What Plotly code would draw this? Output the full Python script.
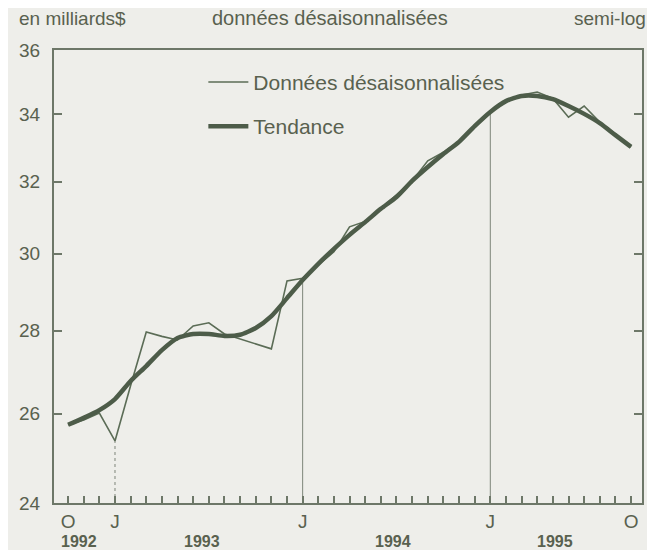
import math
import plotly.graph_objects as go

# Monthly observations, Oct 1992 .. Oct 1995 (month index 0..36)
month_index = list(range(37))
raw_values = [25.74, 25.85, 26.01, 25.37, 26.66, 27.97, 27.86, 27.77, 28.12, 28.20,
              27.92, 27.79, 27.67, 27.55, 29.28, 29.35, 29.70, 30.05, 30.73, 30.88,
              31.23, 31.62, 32.02, 32.60, 32.85, 33.18, 33.60, 34.03, 34.41, 34.58,
              34.67, 34.47, 33.90, 34.24, 33.75, 33.40, 33.00]
trend_values = [25.74, 25.90, 26.08, 26.34, 26.77, 27.13, 27.52, 27.82, 27.92, 27.92,
                27.87, 27.90, 28.07, 28.37, 28.83, 29.30, 29.73, 30.13, 30.51, 30.86,
                31.23, 31.56, 32.02, 32.42, 32.80, 33.16, 33.63, 34.06, 34.39, 34.55,
                34.55, 34.45, 34.24, 34.00, 33.72, 33.36, 33.01]

month_tick_labels = {0: "O", 3: "J", 15: "J", 27: "J", 36: "O"}
january_index = [3, 15, 27]
year_labels = ["1992", "1993", "1994", "1995"]
year_label_pos = [0.73, 8.55, 20.77, 31.13]
y_ticks = [24, 26, 28, 30, 32, 34, 36]

TXT = "#59614f"
AX = "#6d7768"
BG = "#eeeeea"
FONT = "Liberation Sans, Arial, sans-serif"

fig = go.Figure()

# drop lines from January data points to the axis
for k, j in enumerate(january_index):
    fig.add_trace(go.Scatter(
        x=[month_index[j], month_index[j]], y=[y_ticks[0], raw_values[j]],
        mode="lines", line=dict(color="#7d857a", width=1, dash="dot" if k == 0 else "solid"),
        showlegend=False, hoverinfo="skip"))

fig.add_trace(go.Scatter(
    x=month_index, y=raw_values, mode="lines", name="Données désaisonnalisées",
    line=dict(color="#5b6c56", width=1.6), legendgroup="a"))
fig.add_trace(go.Scatter(
    x=month_index, y=trend_values, mode="lines", name="Tendance",
    line=dict(color="#4d5c49", width=4.5, shape="spline", smoothing=0.6), legendgroup="b"))

# page body has an 8px default margin: figure is sized so the plot area lands
# where the reference has it
fig.update_layout(
    width=647, height=542,
    margin=dict(l=37, r=11, t=42, b=47),
    paper_bgcolor=BG, plot_bgcolor=BG,
    font=dict(family=FONT, size=19, color=TXT),
    showlegend=True,
    legend=dict(x=0.254, y=0.974, xanchor="left", yanchor="top",
                bgcolor="rgba(0,0,0,0)", font=dict(size=21, color=TXT),
                tracegroupgap=14, itemwidth=40),
)

fig.update_xaxes(
    range=[-0.9, 36.7], showgrid=False, zeroline=False,
    showline=True, linecolor=AX, linewidth=2, mirror=True,
    ticks="inside", ticklen=7, tickwidth=1.5, tickcolor=AX,
    tickvals=month_index,
    ticktext=[month_tick_labels.get(i, "") for i in month_index],
    tickfont=dict(size=19, color=TXT),
)
fig.update_yaxes(
    type="log", range=[math.log10(24), math.log10(36)],
    showgrid=False, zeroline=False,
    showline=True, linecolor=AX, linewidth=2, mirror="ticks",
    ticks="inside", ticklen=8, tickwidth=1.5, tickcolor=AX,
    tickvals=y_ticks, ticktext=[str(v) for v in y_ticks],
    tickfont=dict(size=19, color=TXT), ticklabelstandoff=8,
)

for lab, pos in zip(year_labels, year_label_pos):
    fig.add_annotation(x=pos, y=0, xref="x", yref="paper", text=f"<b>{lab}</b>",
                       showarrow=False, yanchor="middle", yshift=-38,
                       font=dict(size=16, color=TXT))

fig.add_annotation(x=0.0, y=1, xref="paper", yref="paper", text="en milliards$",
                   showarrow=False, xanchor="left", yanchor="middle", yshift=32, xshift=-37)
fig.add_annotation(x=0.47, y=1, xref="paper", yref="paper", text="données désaisonnalisées",
                   showarrow=False, xanchor="center", yanchor="middle", yshift=32,
                   font=dict(size=20))
fig.add_annotation(x=1.0, y=1, xref="paper", yref="paper", text="semi-log",
                   showarrow=False, xanchor="right", yanchor="middle", yshift=32, xshift=6)

fig.write_html("out.html")
